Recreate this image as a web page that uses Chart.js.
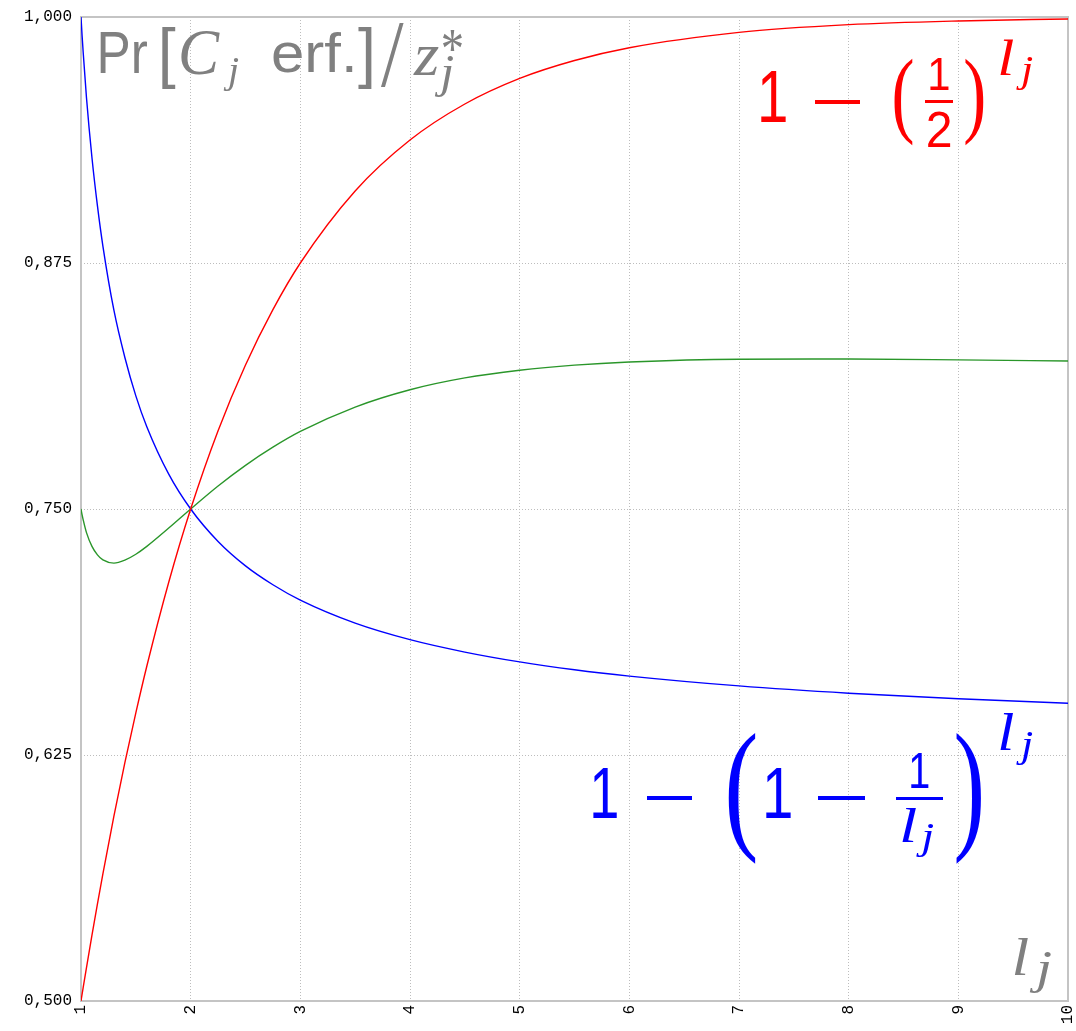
<!DOCTYPE html>
<html>
<head>
<meta charset="utf-8">
<script src="https://cdn.jsdelivr.net/npm/chart.js@4.4.1/dist/chart.umd.min.js"></script>
<style>
  html, body { margin: 0; padding: 0; background: #ffffff; }
  #wrap { width: 1076px; height: 1031px; }
</style>
</head>
<body>
<div id="wrap"><canvas id="c" width="1076" height="1031"></canvas></div>
<script>
// ---- data ----
const lj = [1, 1.01, 1.02, 1.05, 1.1, 1.15, 1.2, 1.3, 1.4, 1.5, 1.6, 1.8, 2, 2.25, 2.5, 2.75, 3, 3.5, 4, 4.5, 5, 5.5, 6, 7, 8, 9, 10];
const redSeries   = [0.5, 0.5035, 0.5069, 0.517, 0.5335, 0.5494, 0.5647, 0.5939, 0.6211, 0.6464, 0.6701, 0.7128, 0.75, 0.7898, 0.8232, 0.8513, 0.875, 0.9116, 0.9375, 0.9558, 0.9688, 0.9779, 0.9844, 0.9922, 0.9961, 0.9980, 0.9990];
const blueSeries  = [1.0, 0.9905, 0.982, 0.959, 0.9285, 0.904, 0.8835, 0.851, 0.827, 0.8075, 0.7918, 0.7677, 0.75, 0.7335, 0.7211, 0.7115, 0.7037, 0.692, 0.6836, 0.6773, 0.6723, 0.6683, 0.6651, 0.6601, 0.6564, 0.6536, 0.6513];
const greenSeries = [0.75, 0.747, 0.7445, 0.738, 0.731, 0.7267, 0.7241, 0.7225, 0.724, 0.727, 0.731, 0.7403, 0.75, 0.7617, 0.7722, 0.7814, 0.7894, 0.8018, 0.8106, 0.8166, 0.8205, 0.8231, 0.8247, 0.8261, 0.8262, 0.8258, 0.8252];
const xTicks = [1, 2, 3, 4, 5, 6, 7, 8, 9, 10];
const yTicks = [0.5, 0.625, 0.75, 0.875, 1.0];

const toPts = (ys) => lj.map((x, i) => ({ x: x, y: ys[i] }));

// ---- annotation drawing (math-style text) ----
const SANS = '"Liberation Sans", "DejaVu Sans", sans-serif';
const SERIF = '"Liberation Serif", "DejaVu Serif", serif';
function fitText(ctx, txt, font, color, x0, y0, x1, y1) {
  ctx.save();
  ctx.font = font;
  ctx.fillStyle = color;
  ctx.textAlign = 'left';
  ctx.textBaseline = 'alphabetic';
  const m = ctx.measureText(txt);
  const w = m.actualBoundingBoxLeft + m.actualBoundingBoxRight;
  const h = m.actualBoundingBoxAscent + m.actualBoundingBoxDescent;
  ctx.translate(x0, y0);
  ctx.scale((x1 - x0) / w, (y1 - y0) / h);
  ctx.fillText(txt, m.actualBoundingBoxLeft, m.actualBoundingBoxAscent);
  ctx.restore();
}
function bar(ctx, color, x0, y0, x1, y1) {
  ctx.save(); ctx.fillStyle = color; ctx.fillRect(x0, y0, x1 - x0, y1 - y0); ctx.restore();
}

const annotations = {
  id: 'annotations',
  beforeDatasetsDraw(chart) {
    const ctx = chart.ctx, a = chart.chartArea;
    ctx.save();
    ctx.strokeStyle = '#c4c4c4';
    ctx.lineWidth = 2;
    ctx.strokeRect(a.left, a.top, a.right - a.left, a.bottom - a.top);
    ctx.restore();
  },
  afterDatasetsDraw(chart) {
    const ctx = chart.ctx;
    const G = '#808080', R = '#ff0000', B = '#0000ff';
    const sans = (s) => s + 'px ' + SANS;
    const seri = (s) => 'italic ' + s + 'px ' + SERIF;
    const ser = (s) => s + 'px ' + SERIF;
    // title
    fitText(ctx, 'Pr', sans(60), G, 100, 32, 147, 73);
    fitText(ctx, '[', sans(60), G, 162, 27, 176, 88);
    fitText(ctx, 'C', seri(60), G, 181, 32, 220, 75);
    fitText(ctx, 'j', seri(40), G, 223, 58, 239, 92);
    fitText(ctx, 'erf.', sans(60), G, 273, 32, 353, 73);
    fitText(ctx, ']', sans(60), G, 358, 27, 372, 88);
    fitText(ctx, '/', ser(60), G, 381, 25, 404, 88);
    fitText(ctx, 'z', seri(60), G, 413, 47, 439, 75);
    fitText(ctx, '*', ser(40), G, 442, 32, 463, 53);
    fitText(ctx, 'j', seri(40), G, 434, 57, 454, 98);
    // red formula
    fitText(ctx, '1', sans(70), R, 761, 70, 786, 122);
    bar(ctx, R, 815, 100, 860, 104);
    fitText(ctx, '(', ser(80), R, 894, 58, 913, 147);
    fitText(ctx, '1', sans(44), R, 930, 58, 949, 90);
    bar(ctx, R, 925, 100, 953, 103);
    fitText(ctx, '2', sans(44), R, 928, 112, 951, 147);
    fitText(ctx, ')', ser(80), R, 965, 58, 984, 147);
    fitText(ctx, 'l', seri(44), R, 1000, 40, 1014, 75);
    fitText(ctx, 'j', seri(44), R, 1016, 58, 1033, 90);
    // blue formula
    fitText(ctx, '1', sans(70), B, 593, 767, 617, 818);
    bar(ctx, B, 647, 796, 692, 800);
    fitText(ctx, '(', ser(110), B, 728, 732, 756, 865);
    fitText(ctx, '1', sans(70), B, 766, 767, 791, 818);
    bar(ctx, B, 818, 796, 865, 800);
    fitText(ctx, '1', sans(44), B, 911, 753, 929, 788);
    bar(ctx, B, 896, 797, 943, 800);
    fitText(ctx, 'l', seri(44), B, 902, 808, 917, 842);
    fitText(ctx, 'j', seri(44), B, 916, 825, 934, 857);
    fitText(ctx, ')', ser(110), B, 956, 732, 981, 865);
    fitText(ctx, 'l', seri(44), B, 1000, 713, 1014, 750);
    fitText(ctx, 'j', seri(44), B, 1016, 732, 1033, 765);
    // axis label
    fitText(ctx, 'l', seri(50), G, 1014, 937, 1028, 975);
    fitText(ctx, 'j', seri(50), G, 1029, 953, 1051, 993);
  }
};

const tickFont = { family: '"Liberation Mono", "DejaVu Sans Mono", monospace', size: 16 };
const gridColor = '#bdbdbd';

new Chart(document.getElementById('c'), {
  type: 'line',
  data: {
    datasets: [
      { data: toPts(redSeries),   borderColor: '#ff0000', borderWidth: 1.4 },
      { data: toPts(greenSeries), borderColor: '#2a962a', borderWidth: 1.4 },
      { data: toPts(blueSeries),  borderColor: '#0000ff', borderWidth: 1.4 }
    ]
  },
  options: {
    responsive: false,
    maintainAspectRatio: false,
    animation: false,
    devicePixelRatio: 1,
    layout: { padding: { top: 17, right: 8, left: 0, bottom: 0 } },
    elements: {
      point: { radius: 0 },
      line: { cubicInterpolationMode: 'monotone', fill: false }
    },
    plugins: { legend: { display: false }, tooltip: { enabled: false }, title: { display: false } },
    scales: {
      x: {
        type: 'linear', min: 1, max: 10,
        afterBuildTicks: (s) => { s.ticks = xTicks.map(v => ({ value: v })); },
        afterFit: (s) => { s.height = 30; s.paddingRight = 0; s.paddingLeft = 0; },
        ticks: { minRotation: 90, maxRotation: 90, padding: 4, color: '#000', font: tickFont,
                 callback: (v) => String(v) },
        grid: { color: gridColor, lineWidth: 1, drawTicks: false },
        border: { display: false, dash: [1, 2] }
      },
      y: {
        type: 'linear', min: 0.5, max: 1.0,
        afterBuildTicks: (s) => { s.ticks = yTicks.map(v => ({ value: v })); },
        afterFit: (s) => { s.width = 81; s.paddingTop = 0; s.paddingBottom = 0; },
        ticks: { padding: 9, color: '#000', font: tickFont,
                 callback: (v) => Number(v).toFixed(3).replace('.', ',') },
        grid: { color: gridColor, lineWidth: 1, drawTicks: false },
        border: { display: false, dash: [1, 2] }
      }
    }
  },
  plugins: [annotations]
});
</script>
</body>
</html>
